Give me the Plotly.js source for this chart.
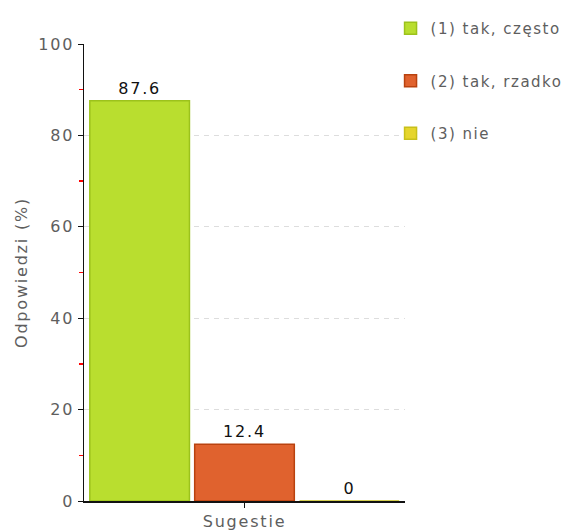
<!DOCTYPE html>
<html>
<head>
<meta charset="utf-8">
<script src="https://cdn.plot.ly/plotly-3.0.1.min.js"></script>
<style>
html,body{margin:0;padding:0;background:#fff;}
#chart{width:585px;height:530px;}
svg text{letter-spacing:1.8px;}
svg text.legendtext{letter-spacing:1.5px;}
</style>
</head>
<body>
<div id="chart"></div>
<script>
var categories = ['Sugestie'];
var seriesNames = ['(1) tak, często', '(2) tak, rzadko', '(3) nie'];
var seriesValues = [[87.6], [12.4], [0]];
var seriesLabels = [['87.6'], ['12.4'], ['0']];
var fillColors = ['#b9de2f', '#e0622e', '#e6d52c'];
var lineColors = ['#9cc21c', '#b9420f', '#c8c01a'];

var traces = seriesNames.map(function(name, i) {
  return {
    type: 'bar',
    name: name,
    x: categories,
    y: seriesValues[i],
    text: seriesLabels[i],
    textposition: 'outside',
    cliponaxis: false,
    textfont: {family: 'DejaVu Sans', size: 16, color: '#111'},
    marker: {color: fillColors[i], line: {color: lineColors[i], width: 1.5}},
    legendgroup: 'g' + i,
    hoverinfo: 'none'
  };
});

var layout = {
  width: 585, height: 530,
  margin: {l: 84, r: 180, t: 41, b: 29},
  paper_bgcolor: '#fff', plot_bgcolor: '#fff',
  barmode: 'group',
  bargap: 0.02,
  bargroupgap: 0.05,
  font: {family: 'DejaVu Sans', size: 16, color: '#5e5e5e'},
  showlegend: true,
  legend: {
    x: 0.955, xanchor: 'left', y: 1.07, yanchor: 'top',
    traceorder: 'grouped', tracegroupgap: 30,
    font: {family: 'DejaVu Sans', size: 15, color: '#5e5e5e'},
    bgcolor: 'rgba(0,0,0,0)'
  },
  xaxis: {
    type: 'category',
    showline: true, linecolor: '#111', linewidth: 1.5,
    ticks: 'outside', ticklen: 5, tickcolor: '#111',
    tickfont: {family: 'DejaVu Sans', size: 16, color: '#5e5e5e'},
    showgrid: false, zeroline: false
  },
  yaxis: {
    range: [0, 100],
    dtick: 20,
    showline: true, linecolor: '#111', linewidth: 1.5,
    ticks: 'outside', ticklen: 5, tickcolor: '#111',
    tickfont: {family: 'DejaVu Sans', size: 16, color: '#5e5e5e'},
    showgrid: true, gridcolor: '#dddddd', griddash: '5px,5px', gridwidth: 1,
    zeroline: false,
    minor: {dtick: 10, ticks: 'outside', ticklen: 4, tickcolor: '#ff0000', tickwidth: 1.5, showgrid: false},
    title: {text: 'Odpowiedzi (%)', standoff: 6, font: {family: 'DejaVu Sans', size: 16, color: '#5e5e5e'}}
  }
};

Plotly.newPlot('chart', traces, layout, {displayModeBar: false, staticPlot: true});
</script>
</body>
</html>
